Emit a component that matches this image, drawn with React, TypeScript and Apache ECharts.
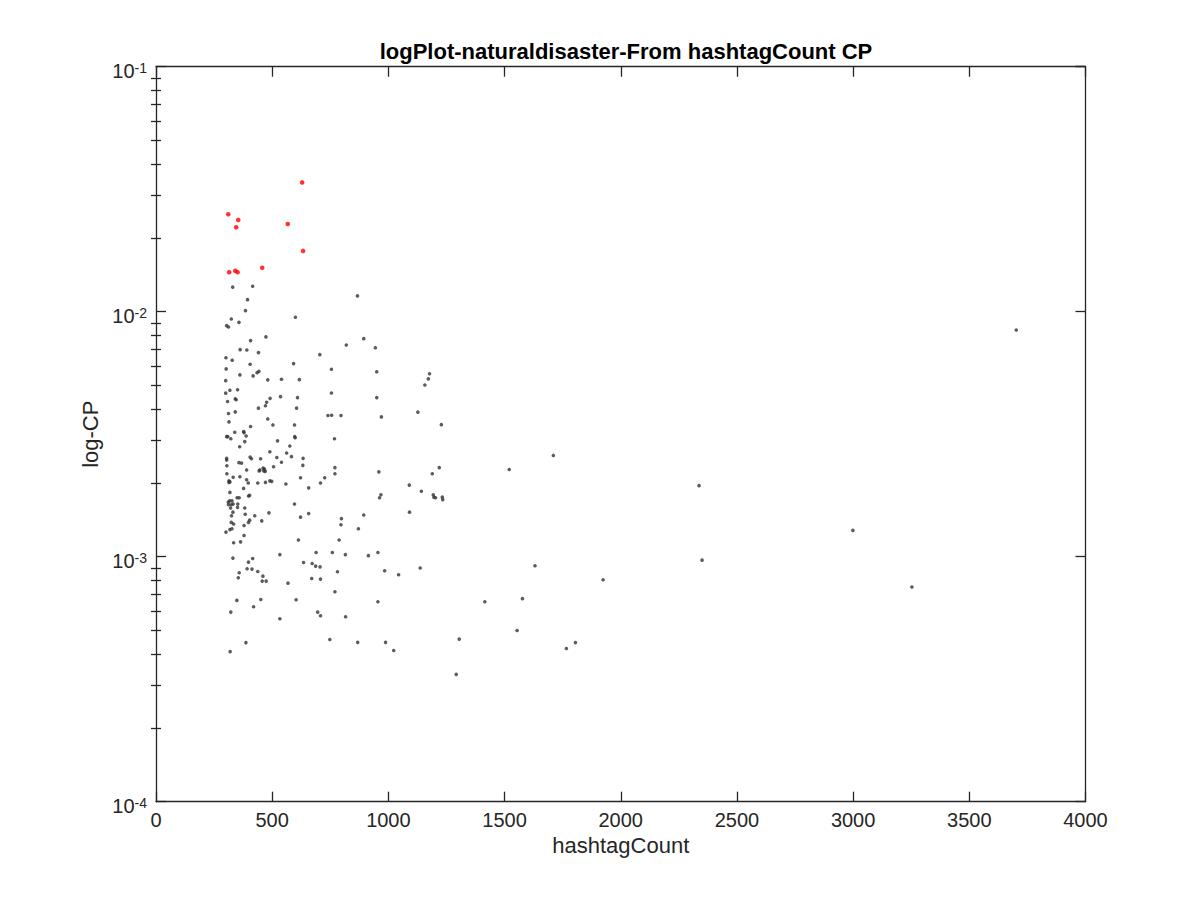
import React, { useEffect, useRef } from 'react';
import * as echarts from 'echarts';

const chartTitle = 'logPlot-naturaldisaster-From hashtagCount CP';
const xAxisName = 'hashtagCount';
const yAxisName = 'log-CP';

// x ticks every 500, y from 1e-4 to 1e-1
const xMin = 0;
const xMax = 4000;
const xStep = 500;
const yMin = 0.0001;
const yMax = 0.1;

// [hashtagCount, CP] – the red ones
const highlightPoints: [number, number][] = [
  [629, 0.0337], [311, 0.025], [354, 0.0237], [345, 0.0221], [567, 0.0228],
  [633, 0.0177], [457, 0.0151], [315, 0.0145], [341, 0.0147], [351, 0.0145],
];

// [hashtagCount, CP] – everything else
const otherPoints: [number, number][] = [
  [330, 0.0126], [416, 0.0127], [394, 0.0112], [867, 0.0116], [385, 0.0101],
  [324, 0.00934], [357, 0.00905], [600, 0.00949], [304, 0.00877], [312, 0.00866],
  [473, 0.00789], [407, 0.00762], [819, 0.00731], [894, 0.00776], [944, 0.00713],
  [362, 0.007], [391, 0.00698], [441, 0.00681], [705, 0.00668], [301, 0.00649],
  [328, 0.00634], [405, 0.0061], [592, 0.00614], [755, 0.00582], [950, 0.00569],
  [302, 0.00584], [361, 0.00552], [418, 0.00547], [435, 0.00564], [443, 0.00571],
  [481, 0.00527], [540, 0.0053], [617, 0.00528], [300, 0.00523], [300, 0.00465],
  [318, 0.00478], [351, 0.0048], [308, 0.0043], [341, 0.00441], [345, 0.00437],
  [491, 0.00443], [476, 0.00427], [536, 0.0045], [609, 0.00446], [755, 0.00466],
  [950, 0.00446], [441, 0.00404], [471, 0.00413], [605, 0.00404],
  [312, 0.00384], [341, 0.0039], [314, 0.00355], [481, 0.00365], [503, 0.00345],
  [407, 0.0034], [596, 0.00345], [740, 0.00377], [756, 0.00378], [796, 0.00377],
  [970, 0.00372], [304, 0.00309], [309, 0.00309], [322, 0.00303], [339, 0.00322],
  [377, 0.00324], [379, 0.00321], [388, 0.00311], [382, 0.00295], [360, 0.00281],
  [523, 0.00297], [597, 0.00309], [599, 0.00306], [576, 0.00283], [768, 0.00303],
  [490, 0.00268], [562, 0.00265], [583, 0.00256], [520, 0.00254], [540, 0.00243],
  [633, 0.00252], [632, 0.00236], [304, 0.00252], [304, 0.00248], [305, 0.00235],
  [357, 0.00242], [368, 0.00241], [405, 0.00255], [411, 0.00251], [450, 0.00251],
  [390, 0.00226], [444, 0.00224], [447, 0.00226], [461, 0.0023], [467, 0.00228],
  [464, 0.00224], [470, 0.00223], [506, 0.00233], [770, 0.00231], [770, 0.00218],
  [959, 0.00222], [305, 0.00218], [332, 0.00211], [361, 0.00212], [390, 0.00206],
  [314, 0.00204], [318, 0.00202], [314, 0.00201], [397, 0.002], [438, 0.002],
  [471, 0.00201], [490, 0.00204], [498, 0.00203], [559, 0.00198], [622, 0.0021],
  [726, 0.0021], [708, 0.002], [657, 0.00191], [377, 0.0019], [318, 0.00183],
  [398, 0.00177], [403, 0.00178], [349, 0.00174], [358, 0.00174], [962, 0.00174],
  [968, 0.00179], [311, 0.00167], [317, 0.00169], [327, 0.00169], [312, 0.00163],
  [324, 0.00163], [332, 0.00164], [352, 0.00164], [321, 0.00158], [351, 0.00159],
  [382, 0.00158], [596, 0.00164], [331, 0.00152], [325, 0.00147], [384, 0.00149],
  [425, 0.00147], [486, 0.00151], [657, 0.0015], [622, 0.00145], [403, 0.00141],
  [398, 0.00138], [455, 0.0014], [324, 0.00138], [334, 0.00136], [379, 0.00134],
  [798, 0.00143], [796, 0.00135], [894, 0.00148], [871, 0.0013], [318, 0.00129],
  [327, 0.0013], [301, 0.00126], [379, 0.00122], [334, 0.00114], [364, 0.00115],
  [613, 0.00117], [788, 0.00117], [331, 0.000987], [416, 0.000983], [398, 0.00095],
  [533, 0.00102], [689, 0.00104], [759, 0.00104], [815, 0.00102], [914, 0.00101],
  [955, 0.00104], [392, 0.000893], [413, 0.00089], [438, 0.00087], [358, 0.00086],
  [354, 0.00082], [460, 0.000833], [457, 0.000795], [474, 0.000795], [635, 0.000947],
  [672, 0.000938], [687, 0.000915], [706, 0.000909], [781, 0.000868], [984, 0.000876],
  [1044, 0.000844], [670, 0.000815], [708, 0.00081], [568, 0.00078], [770, 0.000719],
  [348, 0.000663], [451, 0.000669], [603, 0.000667], [955, 0.000655], [322, 0.000594],
  [420, 0.000625], [696, 0.000594], [708, 0.000574], [533, 0.000558], [816, 0.000569],
  [387, 0.000446], [748, 0.000459], [868, 0.000447], [988, 0.000447], [1023, 0.000414],
  [319, 0.00041],
  [1177, 0.00558], [1172, 0.00532], [1157, 0.00502], [1127, 0.00389], [1228, 0.00346],
  [1710, 0.00259], [1520, 0.00227], [1219, 0.00231], [1189, 0.00218], [1090, 0.00196],
  [1142, 0.00185], [1193, 0.00179], [1196, 0.00175], [1203, 0.00174], [1232, 0.00175],
  [1234, 0.00171], [1091, 0.00152], [1137, 0.000899], [1631, 0.000918], [1415, 0.000655],
  [1577, 0.000674], [1554, 0.0005], [1305, 0.000461], [1766, 0.000422], [1805, 0.000446],
  [1292, 0.000331],
  [3702, 0.00842], [2337, 0.00195], [2999, 0.00128], [2350, 0.000968], [1924, 0.000805],
  [3253, 0.000752],
];

const FONT = '"Liberation Sans", Arial, Helvetica, sans-serif';
const AXIS_COLOR = '#262626';

// 2..9 x 10^k for the log minor ticks
const minorTicks: number[] = [];
for (let k = -4; k <= -2; k++) {
  for (let m = 2; m <= 9; m++) {
    minorTicks.push(parseFloat((m * Math.pow(10, k)).toPrecision(3)));
  }
}

const App: React.FC = () => {
  const chartRef = useRef<HTMLDivElement>(null);

  useEffect(() => {
    const chart = echarts.init(chartRef.current, null, { renderer: 'svg' });

    const lineStyle = { color: AXIS_COLOR, width: 1.3 };

    // negative length = ticks pointing into the plot box (matlab style)
    const baseX = {
      type: 'value',
      min: xMin,
      max: xMax,
      interval: xStep,
      splitLine: { show: false },
      axisLine: { show: true, onZero: false, lineStyle },
      axisTick: { show: true, length: -10, lineStyle },
    };

    const baseY = {
      type: 'log',
      logBase: 10,
      min: yMin,
      max: yMax,
      splitLine: { show: false },
      axisLine: { show: true, onZero: false, lineStyle },
      axisTick: { show: true, length: -10, lineStyle },
    };

    const minorY = {
      type: 'log',
      logBase: 10,
      min: yMin,
      max: yMax,
      splitLine: { show: false },
      axisLine: { show: false },
      axisLabel: { show: false },
      axisTick: { show: true, length: -5, lineStyle, customValues: minorTicks },
    };

    const option = {
      animation: false,
      backgroundColor: '#fff',
      textStyle: { fontFamily: FONT },
      title: {
        text: chartTitle,
        left: 621,
        textAlign: 'center',
        top: 35,
        textStyle: { fontFamily: FONT, fontSize: 22, fontWeight: 'bold', color: '#000' },
      },
      grid: {
        left: 156,
        right: 114.5,
        top: 66.7,
        bottom: 98.3,
        containLabel: false,
        outerBoundsMode: 'none',
      },
      xAxis: [
        {
          ...baseX,
          position: 'bottom',
          name: xAxisName,
          nameLocation: 'middle',
          nameGap: 32,
          nameTextStyle: { fontFamily: FONT, fontSize: 22, color: AXIS_COLOR },
          axisLabel: {
            show: true,
            margin: 8,
            fontFamily: FONT,
            fontSize: 20,
            color: AXIS_COLOR,
            formatter: (v: number) => String(v),
          },
        },
        {
          ...baseX,
          position: 'top',
          axisLabel: { show: false },
        },
      ],
      yAxis: [
        {
          ...baseY,
          position: 'left',
          name: yAxisName,
          nameLocation: 'middle',
          nameGap: 54,
          nameTextStyle: { fontFamily: FONT, fontSize: 22, color: AXIS_COLOR },
          axisLabel: {
            show: true,
            margin: 9,
            padding: [8, 0, 0, 0],
            formatter: (v: number) => `{b|10}{s|${Math.round(Math.log10(v))}}`,
            rich: {
              b: { fontFamily: FONT, fontSize: 20, lineHeight: 20, verticalAlign: 'bottom', color: AXIS_COLOR },
              s: { fontFamily: FONT, fontSize: 14, lineHeight: 14, verticalAlign: 'top', color: AXIS_COLOR },
            },
          },
        },
        { ...minorY, position: 'left' },
        { ...baseY, position: 'right', axisLabel: { show: false } },
        { ...minorY, position: 'right' },
      ],
      series: [
        {
          type: 'scatter',
          name: 'other',
          xAxisIndex: 0,
          yAxisIndex: 0,
          data: otherPoints,
          symbol: 'circle',
          symbolSize: 3.6,
          itemStyle: { color: '#333333' },
        },
        {
          type: 'scatter',
          name: 'top',
          xAxisIndex: 0,
          yAxisIndex: 0,
          data: highlightPoints,
          symbol: 'circle',
          symbolSize: 4.6,
          itemStyle: { color: '#ff0000' },
        },
      ],
    };

    chart.setOption(option);

    return () => {
      chart.dispose();
    };
  }, []);

  return (
    <div
      ref={chartRef}
      style={{ position: 'fixed', left: 0, top: 0, width: 1200, height: 900 }}
    />
  );
};

export default App;
